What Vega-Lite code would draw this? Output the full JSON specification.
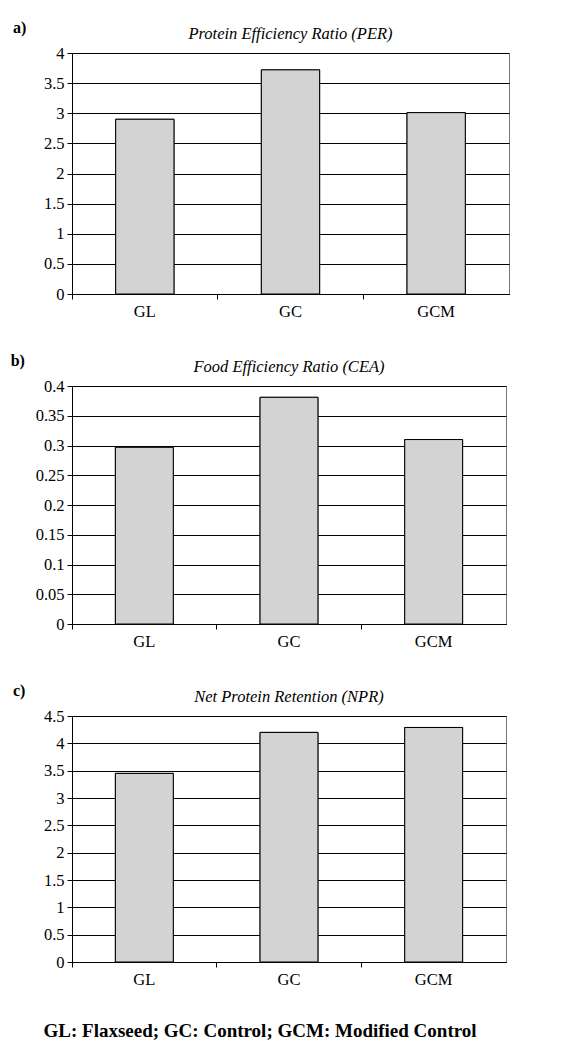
{
  "$schema": "https://vega.github.io/schema/vega-lite/v6.json",
  "background": "white",
  "padding": {"left": 10, "top": 20, "right": 4, "bottom": 12},
  "datasets": {
    "per": [{"group": "GL", "value": 2.9}, {"group": "GC", "value": 3.72}, {"group": "GCM", "value": 3.01}],
    "cea": [{"group": "GL", "value": 0.297}, {"group": "GC", "value": 0.381}, {"group": "GCM", "value": 0.31}],
    "npr": [{"group": "GL", "value": 3.45}, {"group": "GC", "value": 4.2}, {"group": "GCM", "value": 4.29}]
  },
  "title": {"text": "GL: Flaxseed; GC: Control; GCM: Modified Control", "orient": "bottom", "anchor": "middle", "font": "Liberation Serif", "fontSize": 19, "fontWeight": "bold", "color": "black", "offset": 34},
  "spacing": 33,
  "vconcat": [
    {
      "title": {"text": "a)", "anchor": "start", "frame": "bounds", "font": "Liberation Serif", "fontSize": 16, "fontWeight": "bold", "color": "black", "offset": -11, "dx": -30},
      "vconcat": [
        {
          "width": 437, "height": 241,
          "title": {"text": "Protein Efficiency Ratio (PER)", "font": "Liberation Serif", "fontSize": 16.5, "fontStyle": "italic", "fontWeight": "normal", "color": "black", "anchor": "middle", "offset": 3},
          "data": {"name": "per"},
          "resolve": {"axis": {"x": "independent"}},
          "layer": [
            {"mark": {"type": "bar", "fill": "#d3d3d3", "stroke": "black", "strokeWidth": 1, "width": {"band": 0.4}},
             "encoding": {
               "x": {"field": "group", "type": "nominal", "sort": ["GL", "GC", "GCM"], "scale": {"paddingInner": 0, "paddingOuter": 0}, "axis": {"title": null, "orient": "bottom", "ticks": false, "labelPadding": 9, "labelFontSize": 16.5, "labelFont": "Liberation Serif", "labelColor": "black", "labelAngle": 0, "grid": false, "domainColor": "black"}},
               "y": {"field": "value", "type": "quantitative", "scale": {"domain": [0, 4]}, "axis": {"title": null, "values": [0, 0.5, 1, 1.5, 2, 2.5, 3, 3.5, 4], "format": "~g", "grid": true, "labelFontSize": 16.5, "labelFont": "Liberation Serif", "labelColor": "black", "labelPadding": 3}}
             }},
            {"mark": {"type": "bar", "fill": "#d3d3d3", "stroke": "black", "strokeWidth": 1, "width": {"band": 0.4}},
             "encoding": {
               "x": {"field": "group", "type": "nominal", "sort": ["GL", "GC", "GCM"], "axis": {"title": null, "orient": "bottom", "labels": false, "ticks": true, "bandPosition": 0, "tickSize": 5, "grid": false, "domainColor": "black"}},
               "y": {"field": "value", "type": "quantitative", "axis": {"title": null, "values": [0, 0.5, 1, 1.5, 2, 2.5, 3, 3.5, 4], "format": "~g", "grid": true, "labelFontSize": 16.5, "labelFont": "Liberation Serif", "labelColor": "black", "labelPadding": 3}}
             }}
          ]
        }
      ]
    },
    {
      "title": {"text": "b)", "anchor": "start", "frame": "bounds", "font": "Liberation Serif", "fontSize": 16, "fontWeight": "bold", "color": "black", "offset": -11, "dx": -24},
      "vconcat": [
        {
          "width": 434, "height": 238,
          "title": {"text": "Food Efficiency Ratio (CEA)", "font": "Liberation Serif", "fontSize": 16.5, "fontStyle": "italic", "fontWeight": "normal", "color": "black", "anchor": "middle", "offset": 3},
          "data": {"name": "cea"},
          "resolve": {"axis": {"x": "independent"}},
          "layer": [
            {"mark": {"type": "bar", "fill": "#d3d3d3", "stroke": "black", "strokeWidth": 1, "width": {"band": 0.4}},
             "encoding": {
               "x": {"field": "group", "type": "nominal", "sort": ["GL", "GC", "GCM"], "scale": {"paddingInner": 0, "paddingOuter": 0}, "axis": {"title": null, "orient": "bottom", "ticks": false, "labelPadding": 9, "labelFontSize": 16.5, "labelFont": "Liberation Serif", "labelColor": "black", "labelAngle": 0, "grid": false, "domainColor": "black"}},
               "y": {"field": "value", "type": "quantitative", "scale": {"domain": [0, 0.4]}, "axis": {"title": null, "values": [0, 0.05, 0.1, 0.15, 0.2, 0.25, 0.3, 0.35, 0.4], "format": "~g", "grid": true, "labelFontSize": 16.5, "labelFont": "Liberation Serif", "labelColor": "black", "labelPadding": 3}}
             }},
            {"mark": {"type": "bar", "fill": "#d3d3d3", "stroke": "black", "strokeWidth": 1, "width": {"band": 0.4}},
             "encoding": {
               "x": {"field": "group", "type": "nominal", "sort": ["GL", "GC", "GCM"], "axis": {"title": null, "orient": "bottom", "labels": false, "ticks": true, "bandPosition": 0, "tickSize": 5, "grid": false, "domainColor": "black"}},
               "y": {"field": "value", "type": "quantitative", "axis": {"title": null, "values": [0, 0.05, 0.1, 0.15, 0.2, 0.25, 0.3, 0.35, 0.4], "format": "~g", "grid": true, "labelFontSize": 16.5, "labelFont": "Liberation Serif", "labelColor": "black", "labelPadding": 3}}
             }}
          ]
        }
      ]
    },
    {
      "title": {"text": "c)", "anchor": "start", "frame": "bounds", "font": "Liberation Serif", "fontSize": 16, "fontWeight": "bold", "color": "black", "offset": -11, "dx": -30},
      "vconcat": [
        {
          "width": 434, "height": 246,
          "title": {"text": "Net Protein Retention (NPR)", "font": "Liberation Serif", "fontSize": 16.5, "fontStyle": "italic", "fontWeight": "normal", "color": "black", "anchor": "middle", "offset": 3},
          "data": {"name": "npr"},
          "resolve": {"axis": {"x": "independent"}},
          "layer": [
            {"mark": {"type": "bar", "fill": "#d3d3d3", "stroke": "black", "strokeWidth": 1, "width": {"band": 0.4}},
             "encoding": {
               "x": {"field": "group", "type": "nominal", "sort": ["GL", "GC", "GCM"], "scale": {"paddingInner": 0, "paddingOuter": 0}, "axis": {"title": null, "orient": "bottom", "ticks": false, "labelPadding": 9, "labelFontSize": 16.5, "labelFont": "Liberation Serif", "labelColor": "black", "labelAngle": 0, "grid": false, "domainColor": "black"}},
               "y": {"field": "value", "type": "quantitative", "scale": {"domain": [0, 4.5]}, "axis": {"title": null, "values": [0, 0.5, 1, 1.5, 2, 2.5, 3, 3.5, 4, 4.5], "format": "~g", "grid": true, "labelFontSize": 16.5, "labelFont": "Liberation Serif", "labelColor": "black", "labelPadding": 3}}
             }},
            {"mark": {"type": "bar", "fill": "#d3d3d3", "stroke": "black", "strokeWidth": 1, "width": {"band": 0.4}},
             "encoding": {
               "x": {"field": "group", "type": "nominal", "sort": ["GL", "GC", "GCM"], "axis": {"title": null, "orient": "bottom", "labels": false, "ticks": true, "bandPosition": 0, "tickSize": 5, "grid": false, "domainColor": "black"}},
               "y": {"field": "value", "type": "quantitative", "axis": {"title": null, "values": [0, 0.5, 1, 1.5, 2, 2.5, 3, 3.5, 4, 4.5], "format": "~g", "grid": true, "labelFontSize": 16.5, "labelFont": "Liberation Serif", "labelColor": "black", "labelPadding": 3}}
             }}
          ]
        }
      ]
    }
  ],
  "config": {
    "font": "Liberation Serif",
    "view": {"stroke": "#777777", "strokeWidth": 1},
    "axis": {
      "domainColor": "black", "domainWidth": 1,
      "tickColor": "black", "tickSize": 5, "tickWidth": 1,
      "labelFont": "Liberation Serif", "labelFontSize": 16.5, "labelColor": "black", "labelPadding": 3,
      "gridColor": "black", "gridWidth": 1, "gridOpacity": 1
    }
  }
}
